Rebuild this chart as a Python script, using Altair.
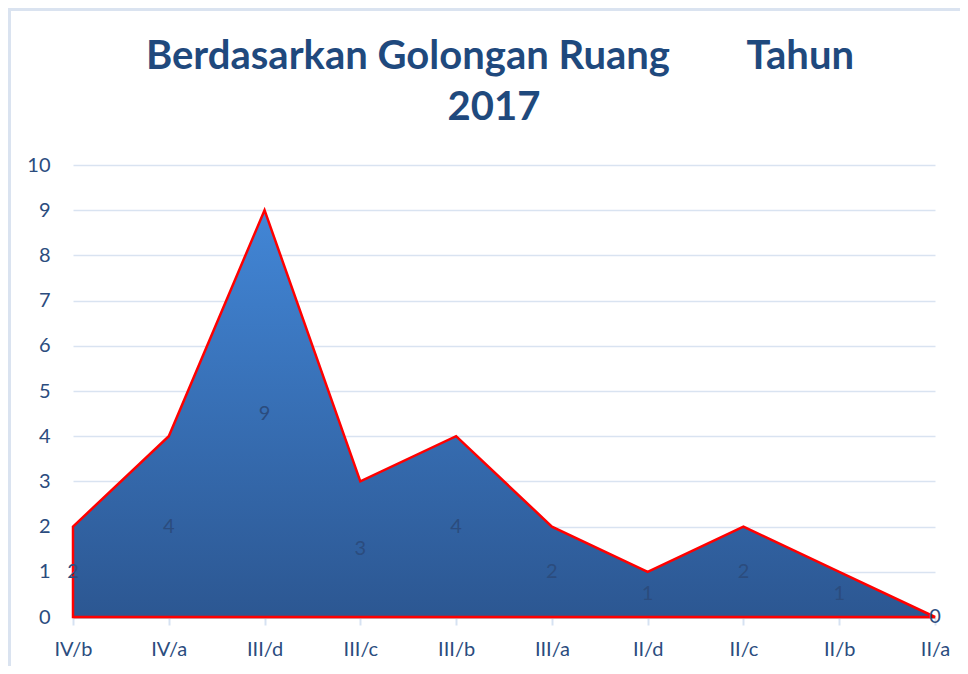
import altair as alt
import pandas as pd

categories = ["IV/b", "IV/a", "III/d", "III/c", "III/b", "III/a", "II/d", "II/c", "II/b", "II/a"]
values = [2, 4, 9, 3, 4, 2, 1, 2, 1, 0]
y_ticks = list(range(0, 11))
title_line1 = "Berdasarkan Golongan Ruang" + "\u00a0" * 8 + "Tahun"
title_line2 = "2017"

df = pd.DataFrame({"gol": categories, "n": values})
df["mid"] = df["n"] / 2

W, H = 862, 452
TXT = "#2b4c7e"

x_enc = alt.X(
    "gol:N",
    sort=categories,
    scale=alt.Scale(type="point", padding=0),
    axis=alt.Axis(
        title=None, labelAngle=0, labelFontSize=20, labelColor=TXT, labelFont="Lato",
        domainColor="#c4bcc2", domainWidth=3, tickColor="#d6e2f2", tickSize=8,
        tickWidth=2, labelPadding=14, grid=False,
    ),
)
y_enc = alt.Y(
    "n:Q",
    scale=alt.Scale(domain=[0, 10], nice=False),
    axis=alt.Axis(
        title=None, values=y_ticks, labelFontSize=20, labelColor=TXT, labelFont="Lato",
        domain=False, ticks=False, labelPadding=23, gridColor="#d9e3f1", gridWidth=1.5,
    ),
)

one = pd.DataFrame({"a": [0]})

frame = alt.Chart(one).mark_rect(
    fill=None, stroke="#dae3f0", strokeWidth=3
).encode(
    x=alt.value(-63.5), x2=alt.value(W + 60), y=alt.value(-155.5), y2=alt.value(H + 80)
)

title_style = dict(fontSize=40, font="Lato", fontWeight="bold", color="#1f497d",
                   align="center", baseline="middle")
title1 = alt.Chart(one).mark_text(text=title_line1, **title_style).encode(
    x=alt.value(W / 2 - 4), y=alt.value(-108)
)
title2 = alt.Chart(one).mark_text(text=title_line2, **title_style).encode(
    x=alt.value(W / 2 - 10), y=alt.value(-57)
)

area = alt.Chart(df).mark_area(
    fill=alt.Gradient(
        gradient="linear",
        stops=[alt.GradientStop(color="#4286d6", offset=0),
               alt.GradientStop(color="#2c5792", offset=1)],
        x1=0, x2=0, y1=0, y2=1,
    ),
    stroke="#ff0000", strokeWidth=2.5,
).encode(x=x_enc, y=y_enc)

labels = alt.Chart(df).mark_text(
    fontSize=20, color=TXT, font="Lato", baseline="middle", align="center"
).encode(
    x=alt.X("gol:N", sort=categories),
    y=alt.Y("mid:Q"),
    text="n:Q",
)

chart = alt.layer(frame, title1, title2, area, labels).properties(
    width=W, height=H,
    autosize=alt.AutoSizeParams(type="none"),
    padding={"left": 65, "top": 157, "right": 25, "bottom": 49},
).configure_view(stroke=None)

chart.save("out.html", embed_options={"renderer": "svg", "actions": False})
